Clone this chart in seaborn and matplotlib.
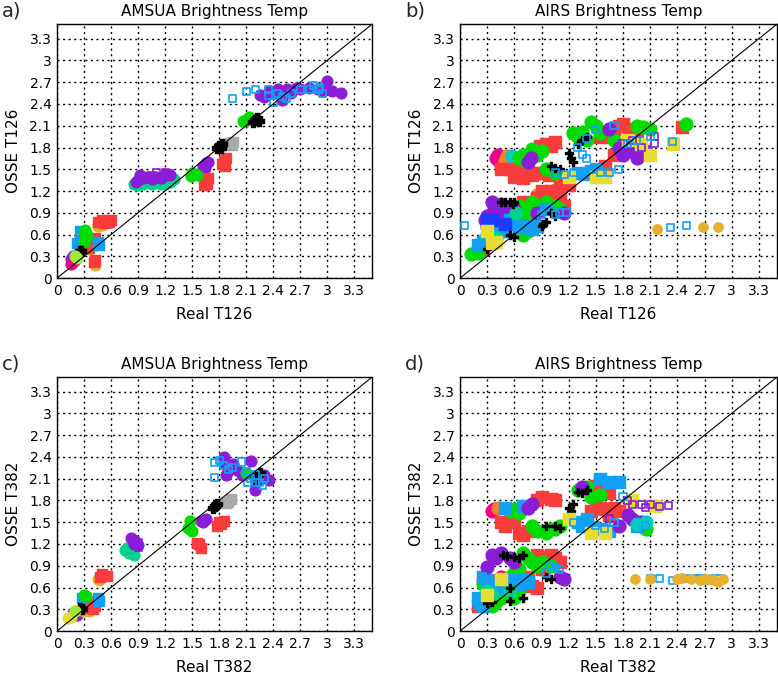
import matplotlib
matplotlib.use("Agg")
import matplotlib.pyplot as plt
import seaborn as sns
import pandas as pd

# GrADS-like colour table
PURPLE = "#8A1ED6"
BLUE = "#12A0F5"
GREEN = "#00DC00"
RED = "#FA3C3C"
DKYELLOW = "#E6AF2D"
ORANGE = "#F08228"
BLACK = "#000000"
GRAY = "#AAAAAA"
TEAL = "#00D28C"
MAGENTA = "#F00082"
YELLOW = "#E6DC32"
CYAN = "#00C8C8"
DKBLUE = "#1E3CFF"
LIME = "#A0E632"

TICKS = [0, 0.3, 0.6, 0.9, 1.2, 1.5, 1.8, 2.1, 2.4, 2.7, 3.0, 3.3]
TICK_LABELS = ["0", "0.3", "0.6", "0.9", "1.2", "1.5", "1.8", "2.1", "2.4", "2.7", "3", "3.3"]

# ---------------- a) AMSUA, T126 ----------------
A_PURPLE = [(2.25, 2.52), (2.3, 2.5), (2.4, 2.55), (2.45, 2.6), (2.5, 2.45), (2.55, 2.6),
            (2.6, 2.55), (2.65, 2.62), (2.7, 2.6), (2.8, 2.62), (2.9, 2.6), (2.95, 2.58),
            (3.0, 2.72), (3.0, 2.6), (3.05, 2.58), (3.15, 2.55), (2.35, 2.58),
            (1.62, 1.55), (1.65, 1.58), (1.68, 1.6), (1.64, 1.52),
            (0.9, 1.35), (0.95, 1.38), (1.0, 1.4), (1.05, 1.36), (1.1, 1.4), (1.15, 1.38),
            (1.2, 1.42), (0.92, 1.42), (1.25, 1.42), (0.88, 1.32),
            (0.15, 0.27), (0.18, 0.3), (0.2, 0.25)]
A_PURPLE_OPEN = [(1.1, 1.45), (1.2, 1.45), (1.25, 1.44), (1.05, 1.42)]
A_BLUE_OPEN = [(1.95, 2.47), (2.1, 2.57), (2.2, 2.6), (2.35, 2.6), (2.4, 2.42), (2.5, 2.5),
               (2.6, 2.55), (2.7, 2.6), (2.85, 2.65), (2.9, 2.6), (2.95, 2.55), (2.8, 2.6),
               (2.45, 2.55), (2.55, 2.48), (2.35, 2.52), (2.92, 2.62)]
A_TEAL = [(0.85, 1.3), (0.95, 1.3), (1.05, 1.3), (1.15, 1.3), (1.25, 1.32), (1.3, 1.37),
          (1.0, 1.32), (0.9, 1.28), (1.2, 1.3)]
A_GREEN = [(2.07, 2.16), (2.1, 2.18), (2.13, 2.22), (1.5, 1.45), (1.52, 1.43), (1.55, 1.42),
           (1.49, 1.41), (0.3, 0.62), (0.32, 0.55), (0.3, 0.5), (0.33, 0.6), (0.31, 0.66)]
A_BLACK = [(2.18, 2.15), (2.2, 2.18), (2.22, 2.2), (2.24, 2.17), (1.78, 1.8), (1.8, 1.82),
           (1.83, 1.85), (1.82, 1.79), (0.24, 0.33), (0.25, 0.37), (0.27, 0.38)]
A_GRAY = [(1.9, 1.84), (1.92, 1.86), (1.95, 1.88), (1.94, 1.83)]
A_RED = [(1.83, 1.57), (1.85, 1.62), (1.88, 1.65), (1.87, 1.55), (1.63, 1.28), (1.65, 1.35),
         (1.67, 1.3), (1.68, 1.38), (1.64, 1.32),
         (0.45, 0.78), (0.5, 0.8), (0.55, 0.78), (0.6, 0.8), (0.52, 0.76), (0.58, 0.77),
         (0.36, 0.42), (0.38, 0.5), (0.4, 0.45), (0.42, 0.55), (0.41, 0.5), (0.41, 0.22),
         (0.42, 0.25)]
A_DKYELLOW = [(0.45, 0.72), (0.5, 0.73), (0.35, 0.4), (0.42, 0.18)]
A_BLUE = [(0.22, 0.48), (0.25, 0.52), (0.25, 0.65), (0.27, 0.6), (0.45, 0.5), (0.47, 0.45),
          (0.46, 0.48)]
A_LIME = [(0.2, 0.3), (0.22, 0.28)]
A_MAGENTA = [(0.15, 0.2), (0.18, 0.22)]

# ---------------- b) AIRS, T126 ----------------
B_MAGENTA = [(0.4, 1.65), (0.43, 1.62), (0.42, 1.7), (0.3, 0.7), (0.45, 0.9)]
B_ORANGE = [(0.5, 1.62), (0.52, 1.68), (0.85, 1.15), (0.9, 1.1), (1.05, 1.22)]
B_CYAN = [(0.57, 1.68), (0.6, 1.65), (0.3, 0.6), (0.55, 0.9), (0.65, 0.85)]
B_RED = [(0.45, 1.5), (0.55, 1.5), (0.65, 1.5), (0.75, 1.48), (0.85, 1.45), (0.6, 1.4),
         (0.7, 1.38), (0.8, 1.42), (0.88, 1.82), (0.95, 1.85), (1.0, 1.82), (1.05, 1.88),
         (0.9, 1.45), (0.98, 1.42), (1.55, 1.95), (1.6, 2.0), (1.65, 1.95), (1.7, 2.05),
         (1.85, 2.0), (1.9, 2.05), (1.75, 2.1), (2.45, 2.08), (1.6, 1.55), (1.7, 1.7),
         (1.45, 1.45), (1.8, 2.12), (1.95, 2.0),
         (0.9, 1.2), (1.0, 1.2), (1.1, 1.25), (1.15, 1.3), (1.2, 1.28), (0.95, 1.15),
         (1.05, 1.1), (0.85, 1.1), (0.75, 1.0), (0.7, 1.05), (0.55, 0.95), (1.15, 1.0),
         (0.25, 0.4), (0.2, 0.38), (1.1, 1.15), (1.0, 1.1)]
B_GREEN = [(0.65, 1.65), (0.7, 1.7), (0.72, 1.62), (0.85, 1.7), (0.9, 1.75), (0.8, 1.78),
           (1.3, 1.95), (1.4, 1.9), (1.5, 2.1), (1.55, 2.0), (1.25, 2.0), (1.45, 2.15),
           (1.7, 1.9), (1.95, 2.1), (2.1, 2.05), (0.95, 1.5), (1.05, 1.45), (2.5, 2.12),
           (1.35, 2.02), (2.02, 2.08),
           (0.65, 1.0), (0.7, 0.95), (0.75, 0.9), (0.8, 0.95), (0.85, 1.0), (0.9, 0.95),
           (1.0, 1.0), (1.05, 1.0), (0.6, 0.8), (0.65, 0.75), (0.5, 0.7), (0.45, 0.75),
           (0.4, 0.6), (0.2, 0.35), (0.25, 0.45), (0.7, 0.6), (0.75, 0.65), (1.1, 0.95),
           (0.12, 0.33), (0.8, 1.05), (0.95, 1.05)]
B_PURPLE = [(0.75, 1.6), (0.78, 1.65), (1.65, 2.05), (1.8, 1.7), (1.85, 1.75), (1.9, 1.8),
            (2.0, 1.7), (1.75, 1.8), (1.95, 1.65), (2.05, 1.75),
            (0.35, 1.05), (0.4, 1.0), (0.38, 0.95), (0.45, 1.02), (0.5, 1.0), (0.3, 0.85),
            (0.28, 0.8), (0.5, 0.85), (0.55, 0.85), (1.15, 0.9), (0.85, 0.9), (0.6, 0.95)]
B_PURPLE_OPEN = [(1.8, 1.85), (1.9, 1.9), (2.0, 1.8), (2.15, 1.95), (2.15, 1.85), (1.75, 1.75)]
B_BLACK = [(1.2, 1.72), (1.22, 1.65), (1.25, 1.6), (1.3, 1.85), (1.35, 1.9), (1.4, 1.95),
           (1.0, 1.55), (1.05, 1.52), (1.1, 1.5),
           (0.45, 1.05), (0.5, 1.05), (0.55, 1.05), (0.6, 1.05), (0.58, 1.02), (0.95, 0.78),
           (0.92, 0.75), (0.6, 0.56), (0.3, 0.4), (0.55, 0.6), (1.0, 0.9), (1.05, 0.85),
           (0.9, 0.72)]
B_BLUE = [(1.3, 1.45), (1.45, 1.48), (1.5, 1.5), (1.38, 1.44),
          (0.55, 0.8), (0.6, 0.75), (0.65, 0.7), (0.7, 0.7), (0.75, 0.72), (0.8, 0.68),
          (0.85, 0.72), (0.4, 0.75), (0.35, 0.65), (0.3, 0.55), (0.25, 0.5), (0.2, 0.45),
          (0.5, 0.65), (0.45, 0.65), (0.95, 0.95)]
B_DKBLUE = [(0.3, 0.8), (0.35, 0.8), (0.5, 0.75)]
B_TEAL = [(0.4, 0.55), (0.62, 0.9)]
B_YELLOW = [(1.2, 1.4), (1.5, 1.4), (1.6, 1.4), (1.85, 1.9), (2.0, 1.85), (2.1, 1.7),
            (2.35, 1.85), (0.3, 0.65), (0.4, 0.5), (0.35, 0.48)]
B_BLUE_OPEN = [(1.3, 1.8), (1.35, 1.7), (1.4, 1.65), (1.05, 1.45), (1.15, 1.43), (1.25, 1.45),
               (1.35, 1.42), (1.45, 1.5), (1.55, 1.45), (1.65, 1.45), (1.75, 1.5), (1.85, 1.85),
               (1.95, 1.9), (2.1, 1.95), (2.35, 1.88), (1.5, 2.05), (1.7, 2.1), (1.4, 1.92),
               (0.05, 0.73), (1.05, 0.88), (1.18, 0.9), (1.1, 0.9), (2.32, 0.7), (2.5, 0.73),
               (0.9, 0.88)]
B_DKYELLOW = [(2.18, 0.68), (2.68, 0.7), (2.85, 0.71)]

# ---------------- c) AMSUA, T382 ----------------
C_PURPLE = [(1.85, 2.3), (1.9, 2.2), (1.95, 2.3), (1.88, 2.15), (2.0, 2.22), (2.15, 2.35),
            (2.25, 2.1), (2.35, 2.08), (2.3, 2.15), (2.2, 1.95), (2.05, 2.15), (1.85, 2.4),
            (1.6, 1.52), (1.65, 1.55), (1.62, 1.5),
            (0.85, 1.25), (0.88, 1.22), (0.82, 1.28), (0.9, 1.18), (0.85, 1.2),
            (0.18, 0.25), (0.22, 0.22)]
C_PURPLE_OPEN = [(0.9, 1.22), (0.9, 1.15)]
C_BLUE_OPEN = [(1.75, 2.32), (1.8, 2.35), (1.85, 2.28), (1.95, 2.25), (1.75, 2.12), (2.05, 2.33),
               (2.1, 2.2), (2.15, 2.1), (2.2, 2.15), (2.25, 2.05), (2.28, 2.0), (2.2, 2.05),
               (1.9, 2.22), (2.12, 2.05), (2.3, 2.1)]
C_GREEN = [(2.1, 2.18), (1.48, 1.4), (1.5, 1.38), (1.45, 1.42), (1.48, 1.52), (0.3, 0.5),
           (0.32, 0.48)]
C_BLACK = [(2.2, 2.1), (2.22, 2.15), (2.25, 2.18), (1.73, 1.7), (1.75, 1.72), (1.78, 1.75),
           (0.25, 0.32), (0.28, 0.3)]
C_GRAY = [(1.88, 1.76), (1.9, 1.78), (1.93, 1.82)]
C_RED = [(1.78, 1.45), (1.8, 1.5), (1.85, 1.52), (1.82, 1.47), (1.55, 1.22), (1.58, 1.2),
         (1.6, 1.15), (0.48, 0.75), (0.5, 0.78), (0.55, 0.76), (0.38, 0.4), (0.42, 0.35),
         (0.35, 0.32), (0.4, 0.3)]
C_TEAL = [(0.75, 1.12), (0.78, 1.15), (0.8, 1.08), (0.85, 1.05)]
C_DKYELLOW = [(0.45, 0.72), (0.47, 0.7), (0.3, 0.28), (0.35, 0.28)]
C_BLUE = [(0.28, 0.45), (0.45, 0.45), (0.47, 0.42)]
C_YELLOW = [(0.12, 0.18), (0.15, 0.2)]
C_LIME = [(0.2, 0.28)]

# ---------------- d) AIRS, T382 ----------------
D_MAGENTA = [(0.35, 1.65), (0.38, 1.68), (0.45, 0.75), (0.4, 0.65)]
D_ORANGE = [(0.42, 1.7), (0.4, 0.7), (0.25, 0.7)]
D_RED = [(0.85, 1.8), (0.9, 1.85), (1.0, 1.82), (1.05, 1.8), (0.45, 1.5), (0.5, 1.45),
         (0.55, 1.5), (0.6, 1.52), (0.65, 1.35), (0.7, 1.32), (0.75, 1.38), (1.5, 2.0),
         (1.55, 1.95), (1.6, 2.0), (1.65, 1.9), (1.5, 1.75), (1.55, 1.7), (1.6, 1.68),
         (1.7, 1.7), (1.75, 1.65), (1.45, 1.65), (1.65, 1.6), (1.55, 2.08),
         (0.85, 1.05), (0.9, 1.02), (1.0, 1.05), (1.05, 1.0), (1.1, 0.95), (0.95, 0.98),
         (0.75, 0.75), (0.7, 0.65), (0.8, 0.62), (0.85, 0.6), (0.3, 0.45), (0.2, 0.35),
         (0.5, 0.5), (0.9, 0.85)]
D_GREEN = [(0.55, 1.65), (0.6, 1.68), (0.65, 1.62), (1.3, 1.95), (1.4, 1.98), (1.45, 1.85),
           (1.55, 1.88), (1.05, 1.4), (0.95, 1.35), (1.1, 1.45), (0.8, 1.45), (2.0, 1.45),
           (2.05, 1.4), (1.0, 1.4), (0.85, 1.38),
           (0.7, 1.08), (0.75, 1.0), (0.8, 0.95), (0.85, 0.9), (0.65, 0.85), (0.6, 0.8),
           (0.55, 0.75), (0.5, 0.6), (0.45, 0.45), (0.6, 0.45), (0.65, 0.55), (0.3, 0.6),
           (0.25, 0.65), (0.75, 0.7), (0.9, 0.95), (1.0, 0.9), (0.35, 0.35), (0.4, 0.4)]
D_BLUE = [(0.5, 1.7), (0.7, 1.72), (1.55, 2.1), (1.65, 2.05), (1.75, 2.05), (1.3, 1.5),
          (1.35, 1.45), (1.45, 1.42), (1.55, 1.4), (1.65, 1.38), (1.95, 1.45), (1.4, 1.55),
          (0.25, 0.75), (0.3, 0.7), (0.35, 0.65), (0.4, 0.6), (0.6, 0.7), (0.65, 0.65),
          (0.7, 0.7), (0.75, 0.68), (0.2, 0.45), (0.22, 0.4), (0.25, 0.35), (0.5, 0.7)]
D_PURPLE = [(0.75, 1.7), (0.8, 1.75), (1.35, 1.98), (1.9, 1.55), (1.95, 1.5), (2.0, 1.5),
            (1.85, 1.6), (1.75, 1.45),
            (0.35, 1.05), (0.4, 1.0), (0.45, 1.08), (0.55, 1.0), (1.1, 0.75), (1.15, 0.72),
            (0.3, 0.88), (0.6, 0.95)]
D_BLACK = [(1.2, 1.7), (1.23, 1.65), (1.25, 1.75), (1.35, 1.9), (1.4, 1.95), (1.3, 1.92),
           (0.95, 1.45), (1.05, 1.45), (1.1, 1.42),
           (0.48, 1.05), (0.52, 1.03), (0.6, 1.02), (0.65, 1.0), (0.7, 1.05), (0.95, 0.75),
           (1.0, 0.72), (0.55, 0.6), (0.7, 0.45), (0.55, 0.42), (0.35, 0.4), (0.3, 0.38)]
D_TEAL = [(0.3, 0.55), (0.35, 0.5), (0.55, 0.55)]
D_YELLOW = [(1.45, 1.35), (1.6, 1.35), (1.9, 1.8), (2.15, 1.72), (1.2, 1.55), (0.45, 0.72),
            (0.3, 0.5)]
D_CYAN = [(2.05, 1.5), (1.95, 1.48)]
D_PURPLE_OPEN = [(1.9, 1.75), (2.0, 1.75), (2.1, 1.75), (2.2, 1.72), (2.3, 1.73), (1.85, 1.8),
                 (1.65, 1.55), (2.05, 1.7)]
D_BLUE_OPEN = [(1.5, 1.45), (1.6, 1.42), (1.7, 1.5), (1.25, 1.5), (1.75, 2.05), (1.8, 1.85),
               (2.05, 1.45), (0.25, 0.75), (0.95, 0.8), (1.0, 0.9), (1.05, 0.88), (1.1, 0.85),
               (2.2, 0.72), (2.35, 0.7), (2.5, 0.73), (2.6, 0.73), (2.65, 0.72), (2.8, 0.73),
               (2.88, 0.72), (2.75, 0.7), (2.1, 0.72)]
D_DKYELLOW = [(1.93, 0.72), (2.1, 0.72), (2.4, 0.72), (2.45, 0.73), (2.55, 0.72), (2.65, 0.7),
              (2.7, 0.72), (2.8, 0.7), (2.85, 0.68), (2.9, 0.72), (2.75, 0.72)]

# draw order, colour and marker kind per panel
PANELS = [
    ("a)", "AMSUA Brightness Temp", "Real T126", "OSSE T126", [0.0733, 0.591, 0.405, 0.3735], 1.2, [
        (A_TEAL, TEAL, "o"), (A_PURPLE, PURPLE, "o"), (A_PURPLE_OPEN, PURPLE, "open"),
        (A_DKYELLOW, DKYELLOW, "o"), (A_RED, RED, "s"), (A_BLUE, BLUE, "s"),
        (A_GREEN, GREEN, "o"), (A_GRAY, GRAY, "s"), (A_BLACK, BLACK, "P"),
        (A_MAGENTA, MAGENTA, "o"), (A_LIME, LIME, "o"), (A_BLUE_OPEN, BLUE, "open")]),
    ("b)", "AIRS Brightness Temp", "Real T126", "OSSE T126", [0.5913, 0.591, 0.4074, 0.3735], 1.7, [
        (B_MAGENTA, MAGENTA, "o"), (B_ORANGE, ORANGE, "o"), (B_CYAN, CYAN, "o"),
        (B_RED, RED, "s"), (B_GREEN, GREEN, "o"), (B_PURPLE, PURPLE, "o"),
        (B_BLUE, BLUE, "s"), (B_DKBLUE, DKBLUE, "s"), (B_TEAL, TEAL, "o"),
        (B_BLACK, BLACK, "P"), (B_YELLOW, YELLOW, "s"), (B_PURPLE_OPEN, PURPLE, "open"),
        (B_BLUE_OPEN, BLUE, "open"), (B_DKYELLOW, DKYELLOW, "dot")]),
    ("c)", "AMSUA Brightness Temp", "Real T382", "OSSE T382", [0.0733, 0.072, 0.405, 0.3735], 1.2, [
        (C_TEAL, TEAL, "o"), (C_PURPLE, PURPLE, "o"), (C_PURPLE_OPEN, PURPLE, "open"),
        (C_DKYELLOW, DKYELLOW, "o"), (C_RED, RED, "s"), (C_BLUE, BLUE, "s"),
        (C_GREEN, GREEN, "o"), (C_GRAY, GRAY, "s"), (C_BLACK, BLACK, "P"),
        (C_YELLOW, YELLOW, "o"), (C_LIME, LIME, "o"), (C_BLUE_OPEN, BLUE, "open")]),
    ("d)", "AIRS Brightness Temp", "Real T382", "OSSE T382", [0.5913, 0.072, 0.4074, 0.3735], 1.7, [
        (D_MAGENTA, MAGENTA, "o"), (D_ORANGE, ORANGE, "o"), (D_RED, RED, "s"),
        (D_GREEN, GREEN, "o"), (D_BLUE, BLUE, "s"), (D_PURPLE, PURPLE, "o"),
        (D_TEAL, TEAL, "o"), (D_BLACK, BLACK, "P"), (D_YELLOW, YELLOW, "s"),
        (D_CYAN, CYAN, "o"), (D_PURPLE_OPEN, PURPLE, "open"), (D_BLUE_OPEN, BLUE, "open"),
        (D_DKYELLOW, DKYELLOW, "dot")]),
]

sns.set_theme(style="white")
plt.rcParams["font.family"] = ["DejaVu Sans"]

fig = plt.figure(figsize=(7.78, 6.80), dpi=100)


def draw_series(ax, pts, color, kind, scale):
    df = pd.DataFrame(pts, columns=["x", "y"])
    if kind == "open":
        sns.scatterplot(data=df, x="x", y="y", marker="s", s=26, facecolor="none",
                        edgecolor=color, linewidth=1.2, ax=ax, zorder=4)
    elif kind == "dot":
        # isolated outliers keep the plain marker size
        sns.scatterplot(data=df, x="x", y="y", marker="o", s=45, color=color,
                        edgecolor=color, linewidth=1.0, ax=ax, zorder=4)
    else:
        size = {"o": 50, "s": 42}.get(kind, 40 if scale > 1.5 else 60)
        if kind != "P":
            size *= scale
        sns.scatterplot(data=df, x="x", y="y", marker=kind, s=size, color=color,
                        edgecolor=color, linewidth=1.0, ax=ax, zorder=3)


for label, title, xlabel, ylabel, rect, scale, series in PANELS:
    ax = fig.add_axes(rect)
    for pts, color, kind in series:
        draw_series(ax, pts, color, kind, scale)

    ax.axline((0, 0), slope=1, color="black", linewidth=0.8, zorder=5)
    ax.set_xlim(0, 3.5)
    ax.set_ylim(0, 3.5)
    ax.set_xticks(TICKS)
    ax.set_xticklabels(TICK_LABELS)
    ax.set_yticks(TICKS)
    ax.set_yticklabels(TICK_LABELS)
    ax.tick_params(length=0, pad=4, labelsize=10, colors="black")
    ax.grid(True, color="black", linestyle=(0, (1.5, 2.5)), linewidth=1)
    ax.set_axisbelow(True)
    for sp in ax.spines.values():
        sp.set_color("black")
        sp.set_linewidth(1)

    ax.set_title(title, fontsize=11, pad=6, color="black")
    ax.set_xlabel(xlabel, fontsize=11, labelpad=7, color="black")
    ax.set_ylabel(ylabel, fontsize=11, labelpad=6, color="black")

    # panel letter in the top-left corner of each quadrant
    x0, y0 = rect[0], rect[1] + rect[3]
    fig.text(x0 - 0.071, y0 + 0.033, label, fontsize=14, ha="left", va="top")

fig.savefig("out.png", dpi=100)
